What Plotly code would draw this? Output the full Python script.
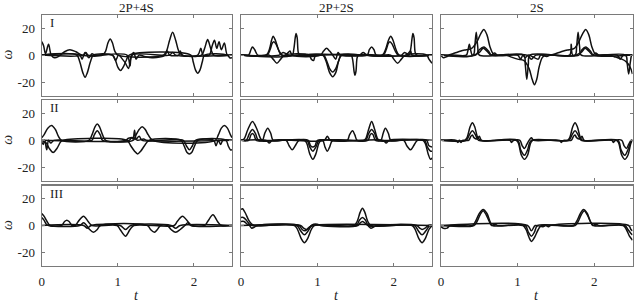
import plotly.graph_objects as go

# ---------------- data ----------------
column_titles = ["2P+4S", "2P+2S", "2S"]
row_labels = ["I", "II", "III"]
x_tick_vals = [0, 1, 2]
x_tick_text = ["0", "1", "2"]
y_tick_vals = [-20, 0, 20]
y_tick_text = ["-20", "0", "20"]
x_label = "t"
y_label = "ω"

# Row I, 2P+4S
r1c1_a = [(0,10),(0.025,7),(0.05,1),(0.09,8),(0.125,0),(0.17,-2),(0.22,-1),(0.3,2.5),(0.37,4),(0.45,2.5),(0.53,0),(0.8,0),(0.84,3),(0.87,9),(0.9,12),(0.93,9),(0.96,3),(1.0,0),(1.6,0),(1.64,3),(1.68,11),(1.72,17),(1.76,11),(1.8,3),(1.84,0),(2.1,0),(2.14,5),(2.18,11.5),(2.22,5),(2.26,0),(2.5,0)]
r1c1_b = [(0,0),(0.46,0),(0.5,-5),(0.54,-13),(0.57,-16.5),(0.6,-13),(0.64,-5),(0.68,0),(0.93,0),(0.97,-4),(1.0,-9),(1.035,-11.5),(1.07,-9),(1.11,-4),(1.15,0),(1.96,0),(1.99,-5),(2.02,-11),(2.05,-13.5),(2.08,-11),(2.11,-5),(2.14,0),(2.44,0),(2.47,-2),(2.5,-2)]
r1c1_c = [(0,0),(0.5,0),(0.53,-3),(0.57,2),(0.62,-2),(0.66,1),(0.7,0),(0.93,0),(0.97,-4),(1.01,0),(1.06,-3),(1.1,-6),(1.14,-10),(1.18,0),(1.21,2),(1.24,-3),(1.28,0),(1.35,-1),(1.45,-2),(1.55,-1.5),(1.62,0),(1.65,3),(1.68,0),(1.8,0),(1.82,3),(1.85,0),(2.05,0),(2.09,5),(2.12,0),(2.2,0),(2.24,7),(2.27,11),(2.3,5),(2.33,10),(2.36,4),(2.4,9),(2.44,0),(2.5,0)]
r1c1_d = [(0,0),(0.55,0),(0.58,2),(0.61,0),(1.12,0),(1.16,-8),(1.19,0),(1.68,0),(1.72,2),(1.76,0),(2.5,0)]

# Row I, 2P+2S
r1c2_a = [(0,0),(0.33,0),(0.37,4),(0.4,11),(0.42,14),(0.45,11),(0.49,4),(0.53,0),(1.07,0),(1.11,-4),(1.16,-13),(1.2,-16),(1.24,-13),(1.28,-4),(1.32,0),(1.85,0),(1.89,4),(1.93,11),(1.96,14),(1.99,11),(2.03,4),(2.07,0),(2.5,0)]
r1c2_b = [(0,0),(0.34,0),(0.38,4),(0.41,9),(0.43,10),(0.46,8),(0.5,3),(0.54,0),(1.08,0),(1.12,-4),(1.16,-10),(1.2,-12.5),(1.24,-10),(1.28,-4),(1.31,0),(1.86,0),(1.9,4),(1.93,9),(1.95,10),(1.98,8),(2.02,3),(2.06,0),(2.5,0)]
r1c2_c = [(0,0),(0.67,0),(0.69,4),(0.71,13),(0.72,16),(0.735,13),(0.75,2),(0.77,0),(1.44,0),(1.46,-3),(1.48,-12),(1.49,-15),(1.505,-12),(1.52,-2),(1.54,0),(2.2,0),(2.22,4),(2.24,13),(2.25,16),(2.265,13),(2.28,2),(2.3,0),(2.5,0)]
r1c2_d = [(0,0),(0.1,0),(0.13,4),(0.15,6),(0.18,4),(0.22,0),(0.37,0),(0.42,-3),(0.47,-6),(0.52,-3),(0.57,0),(0.89,0),(0.92,-3),(0.95,-4),(0.98,0),(1.65,0),(1.68,4),(1.71,6),(1.74,4),(1.77,0),(1.96,0),(2.0,-3),(2.05,-6),(2.1,-3),(2.15,0),(2.43,0),(2.46,-3),(2.5,-6)]
r1c2_e = [(0,0),(0.5,0),(0.55,2),(0.6,1),(0.64,3),(0.67,0),(1.04,0),(1.08,3),(1.12,5),(1.16,3),(1.2,0),(1.24,-3),(1.27,2),(1.3,0),(1.55,0),(1.6,2),(1.65,0),(2.1,0),(2.14,2),(2.18,1),(2.22,3),(2.24,0),(2.5,0)]

# Row I, 2S
r1c3_a = [(0,0),(0.1,0),(0.18,1.5),(0.26,3),(0.33,4),(0.4,5),(0.47,10),(0.52,16),(0.56,19),(0.6,15),(0.64,6),(0.68,1),(0.72,0),(0.85,0),(0.92,-1.5),(1.0,-3),(1.08,-4),(1.15,-10),(1.19,-18),(1.22,-22),(1.25,-18),(1.28,-9),(1.32,-2),(1.36,0),(1.44,0),(1.52,1.5),(1.6,3),(1.67,4),(1.74,5),(1.8,10),(1.85,16),(1.89,19),(1.93,15),(1.97,6),(2.01,1),(2.05,0),(2.2,0),(2.28,-1.5),(2.36,-3),(2.42,-5),(2.47,-9),(2.5,-14)]
r1c3_b = [(0,0),(0.42,0),(0.44,6),(0.46,17),(0.48,6),(0.5,0),(1.08,0),(1.1,-7),(1.12,-18),(1.14,-7),(1.16,0),(1.75,0),(1.77,6),(1.79,17),(1.81,6),(1.83,0),(2.41,0),(2.43,-6),(2.45,-14),(2.47,-6),(2.49,0),(2.5,0)]
r1c3_c = [(0,0),(0.03,-2),(0.08,-1),(0.12,0),(0.33,0),(0.35,3),(0.37,8),(0.39,3),(0.41,0),(0.5,2),(0.55,5),(0.6,3),(0.65,0),(0.7,1.5),(0.74,0),(1.0,0),(1.04,-3),(1.07,0),(1.1,-2),(1.14,0),(1.27,-3),(1.3,0),(1.38,-1),(1.43,0),(1.68,0),(1.7,8),(1.72,0),(1.83,2),(1.88,5),(1.93,3),(1.98,0),(2.02,1.5),(2.06,0),(2.3,0),(2.34,-3),(2.38,0),(2.5,0)]
r1c3_d = [(0,0),(0.45,0),(0.5,4),(0.56,6),(0.62,3),(0.66,0),(1.12,0),(1.18,-3),(1.24,0),(1.8,0),(1.84,4),(1.89,6),(1.95,3),(1.99,0),(2.5,0)]

# Row II, 2P+4S
r2c1_a = [(0,2),(0.03,4),(0.08,9),(0.13,11),(0.18,8),(0.22,3),(0.26,0),(0.62,0),(0.66,4),(0.7,10),(0.73,12),(0.76,10),(0.8,4),(0.84,0),(1.2,0),(1.24,4),(1.28,8),(1.32,10),(1.36,8),(1.4,4),(1.46,0),(2.28,0),(2.32,4),(2.36,9),(2.4,11),(2.44,9),(2.48,4),(2.5,2)]
r2c1_b = [(0,0),(0.06,-2),(0.1,-6),(0.15,-9),(0.2,-6),(0.25,-1),(0.28,0),(1.12,0),(1.17,-4),(1.22,-8),(1.26,-10),(1.3,-8),(1.35,-4),(1.41,0),(1.83,0),(1.87,-4),(1.91,-9),(1.94,-10),(1.97,-9),(2.01,-4),(2.05,0),(2.42,0),(2.45,-4),(2.48,-7),(2.5,-7)]
r2c1_c = [(0,-1),(0.02,-3),(0.04,0),(0.066,-7),(0.09,0),(0.12,-2),(0.16,0),(0.66,0),(0.69,4),(0.73,7),(0.77,4),(0.8,0),(1.15,0),(1.18,2),(1.2,1),(1.22,7.5),(1.24,1),(1.28,3),(1.32,0),(1.86,0),(1.9,-4),(1.94,-7),(1.98,-4),(2.02,0),(2.26,0),(2.29,-4),(2.32,0),(2.35,-3),(2.38,0),(2.5,0)]
r2c1_d = [(0,0),(1.1,0),(1.14,1.5),(1.2,2),(1.26,0),(1.34,1),(1.38,0),(2.5,0)]

# Row II, 2P+2S
r2c2_a = [(0,0),(0.04,1),(0.09,8),(0.15,14),(0.21,8),(0.26,1),(0.29,0),(0.83,0),(0.86,-2),(0.9,-10),(0.94,-14),(0.98,-10),(1.02,-2),(1.05,0),(1.6,0),(1.63,1),(1.67,8),(1.71,14),(1.75,8),(1.79,1),(1.82,0),(2.38,0),(2.41,-2),(2.45,-10),(2.48,-14),(2.5,-13)]
r2c2_b = [(0,0),(0.07,0),(0.11,5),(0.15,8),(0.19,5),(0.23,0),(0.86,0),(0.9,-5),(0.94,-8),(0.98,-5),(1.02,0),(1.07,0),(1.1,-5),(1.13,-8),(1.16,-5),(1.2,0),(1.63,0),(1.67,5),(1.71,8),(1.75,5),(1.79,0),(2.4,0),(2.44,-5),(2.48,-8),(2.5,-8)]
r2c2_c = [(0,0),(0.1,0),(0.13,4),(0.15,5),(0.17,4),(0.2,0),(0.28,0),(0.31,5),(0.35,9),(0.39,5),(0.42,0),(0.59,0),(0.63,-4),(0.67,-7),(0.71,-4),(0.76,0),(0.88,0),(0.91,-4),(0.94,-5),(0.97,-4),(1.0,0),(1.39,0),(1.42,4),(1.46,7),(1.49,4),(1.52,0),(1.66,0),(1.69,4),(1.71,5),(1.73,4),(1.76,0),(1.83,0),(1.86,5),(1.89,9),(1.93,5),(1.96,0),(2.13,0),(2.17,-4),(2.22,-7),(2.26,-4),(2.31,0),(2.43,0),(2.46,-4),(2.5,-5)]
r2c2_d = [(0,0),(0.33,0),(0.37,-2),(0.41,0),(1.09,0),(1.13,3),(1.17,0),(1.86,0),(1.9,-2),(1.94,0),(2.5,0)]

# Row II, 2S
r2c3_a = [(0,0),(0.31,0),(0.34,2),(0.38,10),(0.41,13),(0.44,10),(0.48,2),(0.52,0),(0.98,0),(1.01,-2),(1.05,-11),(1.09,-14),(1.13,-11),(1.17,-2),(1.2,0),(1.65,0),(1.68,2),(1.72,10),(1.75,13),(1.78,10),(1.82,2),(1.85,0),(2.29,0),(2.32,-2),(2.36,-11),(2.4,-14),(2.44,-11),(2.48,-2),(2.5,0)]
r2c3_b = [(0,0),(0.33,0),(0.37,4),(0.41,7),(0.45,4),(0.49,0),(1.0,0),(1.04,-7),(1.09,-11),(1.13,-7),(1.18,0),(1.67,0),(1.71,4),(1.75,7),(1.79,4),(1.83,0),(2.31,0),(2.35,-7),(2.4,-11),(2.44,-7),(2.49,0),(2.5,0)]
r2c3_c = [(0,0),(0.2,0),(0.22,-1.5),(0.24,0),(0.26,-1.5),(0.28,0),(0.36,0),(0.39,3),(0.41,4),(0.43,2),(0.47,1),(0.5,3),(0.53,0),(0.9,0),(0.92,-1.5),(0.95,0),(1.03,0),(1.06,-4),(1.09,-6),(1.12,-3),(1.15,0),(1.18,2),(1.21,0),(1.55,0),(1.57,-1.5),(1.6,0),(1.7,0),(1.73,3),(1.75,4),(1.77,2),(1.81,1),(1.84,3),(1.87,0),(2.23,0),(2.25,-1.5),(2.28,0),(2.36,0),(2.39,-4),(2.42,-6),(2.45,-3),(2.48,0),(2.5,0)]

# Row III, 2P+4S
r3c1_a = [(0,9),(0.03,7),(0.07,3),(0.11,0),(0.26,0),(0.3,3),(0.33,4),(0.36,3),(0.4,0),(0.44,0),(0.48,3),(0.55,7),(0.61,3),(0.66,0),(0.99,0),(1.03,-3),(1.1,-8),(1.16,-3),(1.21,0),(1.74,0),(1.78,3),(1.85,7),(1.92,3),(1.97,0),(2.14,0),(2.18,3),(2.25,8),(2.31,3),(2.36,0),(2.5,0)]
r3c1_b = [(0,6),(0.03,4),(0.06,1),(0.09,0),(0.5,0),(0.55,2),(0.59,0),(0.63,-3),(0.68,-5),(0.73,-3),(0.77,0),(1.39,0),(1.43,-3),(1.48,-5),(1.52,-3),(1.56,0),(1.65,0),(1.7,-3),(1.76,-5),(1.82,-3),(1.88,0),(1.92,2),(1.96,0),(2.5,0)]
r3c1_c = [(0,0),(0.55,0),(0.6,-2),(0.65,0),(1.03,0),(1.1,-3),(1.17,0),(1.7,0),(1.76,-2),(1.82,0),(2.5,0)]

# Row III, 2P+2S
r3c2_a = [(0,12),(0.02,12.5),(0.06,9),(0.1,4),(0.14,1),(0.18,0),(0.7,0),(0.74,-3),(0.79,-10),(0.83,-13),(0.87,-10),(0.92,-3),(0.96,0),(1.48,0),(1.52,3),(1.56,10),(1.59,13),(1.62,10),(1.66,3),(1.7,0),(2.24,0),(2.28,-3),(2.33,-10),(2.37,-13),(2.41,-10),(2.46,-3),(2.5,0)]
r3c2_b = [(0,6),(0.03,6),(0.07,4),(0.11,1),(0.15,0),(0.73,0),(0.78,-4),(0.83,-7),(0.88,-4),(0.93,0),(1.51,0),(1.55,4),(1.59,6),(1.63,4),(1.67,0),(2.27,0),(2.32,-4),(2.37,-7),(2.42,-4),(2.47,0),(2.5,0)]
r3c2_c = [(0,3),(0.04,3),(0.08,1),(0.11,0),(0.14,-2),(0.18,-1),(0.21,0),(0.76,0),(0.8,-3),(0.84,-4),(0.88,-2),(0.92,0),(0.95,1),(1.0,1),(1.04,0),(1.53,0),(1.56,2),(1.59,3),(1.62,2),(1.66,0),(1.7,-2),(1.74,-1),(1.78,0),(2.3,0),(2.34,-2),(2.37,-3),(2.41,-2),(2.45,0),(2.5,0)]
r3c2_d = [(0,0),(0.78,0),(0.82,-2),(0.86,-3),(0.9,-1),(0.93,0),(2.5,0)]

# Row III, 2S
r3c3_a = [(0,-1),(0.03,-2),(0.08,-2),(0.12,0),(0.41,0),(0.45,3),(0.5,9),(0.55,12),(0.6,9),(0.64,3),(0.67,0),(1.07,0),(1.11,-3),(1.15,-9),(1.18,-12),(1.22,-9),(1.27,-3),(1.31,0),(1.73,0),(1.77,3),(1.82,9),(1.86,12),(1.91,9),(1.95,3),(1.99,0),(2.38,0),(2.42,-3),(2.46,-8),(2.5,-11)]
r3c3_b = [(0,0),(0.43,0),(0.47,3),(0.51,8),(0.55,11),(0.59,8),(0.63,3),(0.66,0),(0.7,1),(0.74,0),(1.1,0),(1.14,-5),(1.18,-8),(1.22,-5),(1.26,0),(1.75,0),(1.79,3),(1.83,8),(1.87,11),(1.91,8),(1.95,3),(1.98,0),(2.02,1),(2.06,0),(2.4,0),(2.44,-3),(2.48,-6),(2.5,-7)]
r3c3_c = [(0,0),(1.13,0),(1.18,-4),(1.23,0),(1.33,-1),(1.37,0),(1.4,-1),(1.43,0),(2.45,0),(2.48,-3),(2.5,-4)]

panels = [
    [[r1c1_a, r1c1_b, r1c1_c, r1c1_d],
     [r1c2_a, r1c2_b, r1c2_c, r1c2_d, r1c2_e],
     [r1c3_a, r1c3_b, r1c3_c, r1c3_d]],
    [[r2c1_a, r2c1_b, r2c1_c, r2c1_d],
     [r2c2_a, r2c2_b, r2c2_c, r2c2_d],
     [r2c3_a, r2c3_b, r2c3_c]],
    [[r3c1_a, r3c1_b, r3c1_c],
     [r3c2_a, r3c2_b, r3c2_c, r3c2_d],
     [r3c3_a, r3c3_b, r3c3_c]],
]

# ---------------- layout ----------------
W, H = 634, 302
col_px = [(41.7, 232.0), (241.0, 432.0), (441.0, 632.5)]
row_px = [(14.7, 95.5), (99.7, 181.0), (185.5, 265.5)]
FONT = "Liberation Serif"
FRAME = "#7a7a7a"

fig = go.Figure()
layout = {}
for r in range(3):
    for c in range(3):
        k = r * 3 + c + 1
        xa = "x" if k == 1 else f"x{k}"
        ya = "y" if k == 1 else f"y{k}"
        for curve in panels[r][c]:
            fig.add_trace(go.Scatter(
                x=[p[0] for p in curve], y=[p[1] for p in curve],
                mode="lines", xaxis=xa, yaxis=ya, hoverinfo="skip", cliponaxis=True,
                line=dict(color="#111111", width=1.5, shape="spline", smoothing=0.9),
                showlegend=False))
        xd = [col_px[c][0] / W, col_px[c][1] / W]
        yd = [1 - row_px[r][1] / H, 1 - row_px[r][0] / H]
        layout["xaxis" if k == 1 else f"xaxis{k}"] = dict(
            domain=xd, anchor=ya, range=[0, 2.5], tickvals=x_tick_vals, ticktext=x_tick_text,
            ticks="inside", ticklen=3, tickcolor=FRAME, showline=True, linecolor=FRAME,
            linewidth=1.2, mirror="allticks", showgrid=False, zeroline=False,
            showticklabels=(r == 2), ticklabelstandoff=4, automargin=False,
            tickfont=dict(family=FONT, size=13, color="#222"))
        layout["yaxis" if k == 1 else f"yaxis{k}"] = dict(
            domain=yd, anchor=xa, range=[-30, 30], tickvals=y_tick_vals, ticktext=y_tick_text,
            ticks="inside", ticklen=3, tickcolor=FRAME, showline=True, linecolor=FRAME,
            linewidth=1.2, mirror="allticks", showgrid=False, zeroline=False,
            showticklabels=(c == 0), ticklabelstandoff=3, automargin=False,
            tickfont=dict(family=FONT, size=13, color="#222"))

annotations = []
for c in range(3):
    xc = (col_px[c][0] + col_px[c][1]) / 2 / W
    annotations.append(dict(text=column_titles[c], x=xc, y=1 - 7 / H, xref="paper", yref="paper",
                            xanchor="center", yanchor="middle", showarrow=False,
                            font=dict(family=FONT, size=13, color="#222")))
    annotations.append(dict(text=f"<i>{x_label}</i>", x=xc, y=1 - 295 / H, xref="paper", yref="paper",
                            xanchor="center", yanchor="middle", showarrow=False,
                            font=dict(family=FONT, size=14, color="#222")))
for r in range(3):
    yc = 1 - (row_px[r][0] + row_px[r][1]) / 2 / H
    annotations.append(dict(text=f"<i>{y_label}</i>", x=7.5 / W, y=yc, xref="paper", yref="paper",
                            xanchor="center", yanchor="middle", textangle=-90, showarrow=False,
                            font=dict(family=FONT, size=14, color="#222")))
    annotations.append(dict(text=row_labels[r], x=(col_px[0][0] + 6) / W, y=1 - (row_px[r][0] + 8) / H,
                            xref="paper", yref="paper", xanchor="left", yanchor="middle",
                            showarrow=False, font=dict(family=FONT, size=13, color="#222")))

fig.update_layout(width=W, height=H, margin=dict(l=0, r=0, t=0, b=0, autoexpand=False),
                  paper_bgcolor="white", plot_bgcolor="white",
                  annotations=annotations, **layout)
fig.write_html("out.html", config={"displayModeBar": False, "staticPlot": True},
               post_script="document.body.style.margin='0';document.body.style.padding='0';"
                           "document.body.style.overflow='hidden';")
